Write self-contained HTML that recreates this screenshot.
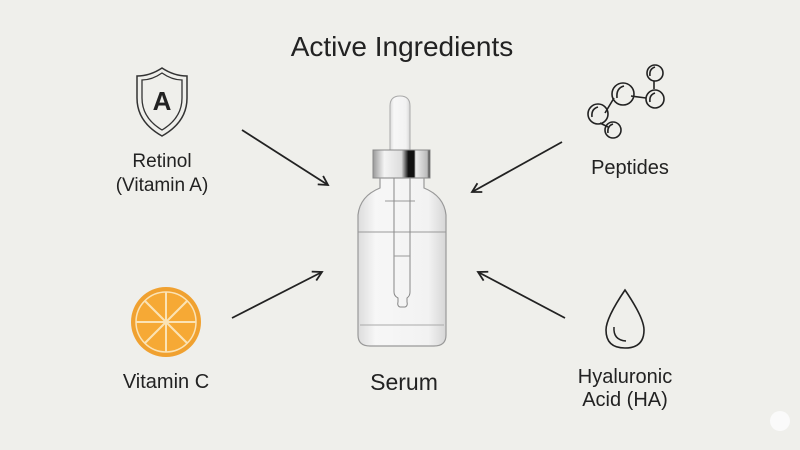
<!DOCTYPE html>
<html><head><style>
body{margin:0;background:#efefeb;}
svg{display:block}
text{font-family:"Liberation Sans",sans-serif;fill:#222}
</style></head><body>
<svg width="800" height="450" viewBox="0 0 800 450">
<rect width="800" height="450" fill="#efefeb"/>
<defs>
<marker id="ah" markerWidth="12" markerHeight="12" refX="10" refY="6" orient="auto" markerUnits="userSpaceOnUse">
<path d="M1,1 L10,6 L1,11" fill="none" stroke="#222" stroke-width="1.8"/>
</marker>
<linearGradient id="col" x1="0" x2="1">
<stop offset="0" stop-color="#999"/><stop offset="0.2" stop-color="#f4f4f4"/><stop offset="0.5" stop-color="#ddd"/><stop offset="0.62" stop-color="#111"/><stop offset="0.72" stop-color="#111"/><stop offset="0.75" stop-color="#eee"/><stop offset="0.95" stop-color="#bbb"/><stop offset="1" stop-color="#222"/>
</linearGradient>
<linearGradient id="gl" x1="0" x2="1">
<stop offset="0" stop-color="#dcdcdc"/><stop offset="0.2" stop-color="#f7f7f7"/><stop offset="0.8" stop-color="#f2f2f2"/><stop offset="1" stop-color="#d6d6d6"/>
</linearGradient>
</defs>
<text x="402" y="56" font-size="28" text-anchor="middle">Active Ingredients</text>

<!-- bottle -->
<path d="M390,150 L390,106 Q390,96 400,96 Q410,96 410,106 L410,150 Z" fill="url(#gl)" stroke="#aaa"/>
<rect x="373" y="150" width="57" height="28" fill="url(#col)" stroke="#888"/>
<path d="M380,178 L380,188 Q360,196 358,215 L358,335 Q358,346 370,346 L434,346 Q446,346 446,335 L446,215 Q444,196 424,188 L424,178 Z" fill="url(#gl)" stroke="#999" stroke-width="1.2"/>
<line x1="358" y1="232" x2="446" y2="232" stroke="#999"/>
<line x1="360" y1="325" x2="444" y2="325" stroke="#aaa"/>
<line x1="385" y1="201" x2="415" y2="201" stroke="#999"/>
<path d="M394,178 L394,292 Q394,296 398,298 L398,302 Q397,306 400,307 L405,307 Q408,306 407,302 L407,298 Q410,296 410,292 L410,178" fill="none" stroke="#888"/>
<line x1="394" y1="256" x2="410" y2="256" stroke="#999"/>
<text x="404" y="390" font-size="23" text-anchor="middle">Serum</text>

<!-- arrows -->
<g stroke="#222" stroke-width="1.8" marker-end="url(#ah)">
<line x1="242" y1="130" x2="328" y2="185"/>
<line x1="232" y1="318" x2="322" y2="272"/>
<line x1="562" y1="142" x2="472" y2="192"/>
<line x1="565" y1="318" x2="478" y2="272"/>
</g>

<!-- shield -->
<path d="M162,68 Q150,76 137,76 L137,98 Q137,122 162,136 Q187,122 187,98 L187,76 Q174,76 162,68 Z" fill="none" stroke="#333" stroke-width="1.5"/>
<path d="M162,73 Q152,80 142,80 L142,98 Q142,118 162,130 Q182,118 182,98 L182,80 Q172,80 162,73 Z" fill="none" stroke="#333" stroke-width="1.3"/>
<text x="162" y="110" font-size="26" text-anchor="middle" font-weight="bold" fill="#111">A</text>
<text x="162" y="167" font-size="19" text-anchor="middle">Retinol</text>
<text x="162" y="191" font-size="19" text-anchor="middle">(Vitamin A)</text>

<!-- orange -->
<circle cx="166" cy="322" r="35" fill="#f0a130"/>
<circle cx="166" cy="322" r="30" fill="#f6a935" stroke="#fbe3b5" stroke-width="1.5"/>
<g stroke="#fbe3b5" stroke-width="2">
<line x1="166" y1="292" x2="166" y2="352"/><line x1="136" y1="322" x2="196" y2="322"/>
<line x1="145" y1="301" x2="187" y2="343"/><line x1="187" y1="301" x2="145" y2="343"/>
</g>
<text x="166" y="388" font-size="20" text-anchor="middle">Vitamin C</text>

<!-- peptides -->
<g fill="none" stroke="#222" stroke-width="1.6">
<line x1="605" y1="113" x2="614" y2="98"/><line x1="631" y1="96" x2="646" y2="98"/><line x1="654" y1="81" x2="654" y2="89"/><line x1="600" y1="123" x2="608" y2="127"/>
<circle cx="623" cy="94" r="11"/><path d="M617,98 Q616,88 624,86" />
<circle cx="655" cy="73" r="8"/><path d="M650,76 Q649,69 655,67"/>
<circle cx="655" cy="99" r="9"/><path d="M650,102 Q649,95 655,93"/>
<circle cx="598" cy="114" r="10"/><path d="M592,117 Q591,109 598,107"/>
<circle cx="613" cy="130" r="8"/><path d="M608,133 Q607,126 613,124"/>
</g>
<text x="630" y="174" font-size="20" text-anchor="middle">Peptides</text>

<!-- drop -->
<path d="M625,290 Q606,318 606,330 Q606,348 625,348 Q644,348 644,330 Q644,318 625,290 Z" fill="none" stroke="#222" stroke-width="1.6"/>
<path d="M614,327 Q613,340 626,341" fill="none" stroke="#222" stroke-width="1.5"/>
<text x="625" y="383" font-size="20" text-anchor="middle">Hyaluronic</text>
<text x="625" y="406" font-size="20" text-anchor="middle">Acid (HA)</text>
<circle cx="780" cy="421" r="10" fill="#fafafa"/>
</svg>
</body></html>
